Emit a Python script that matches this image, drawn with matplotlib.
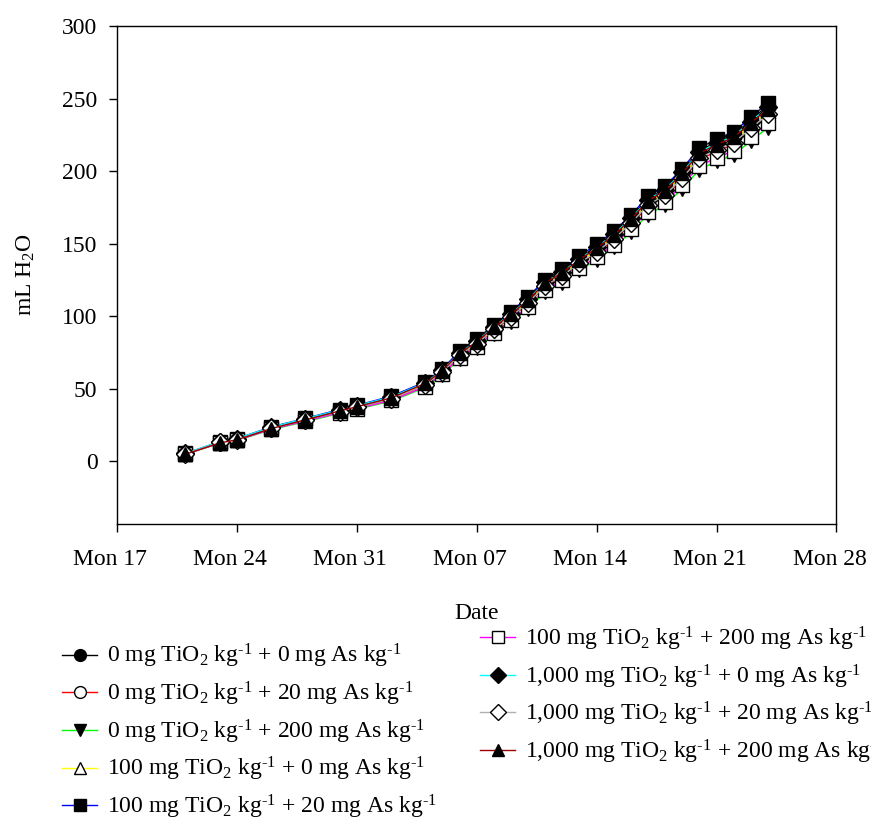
import pandas as pd
import matplotlib
matplotlib.use('Agg')
import matplotlib.pyplot as plt
import matplotlib.dates as mdates
from matplotlib.transforms import ScaledTranslation

plt.rcParams['font.family'] = 'Liberation Serif'
plt.rcParams['font.size'] = 17
plt.rcParams['mathtext.fontset'] = 'custom'
plt.rcParams['mathtext.rm'] = 'Liberation Serif'
plt.rcParams['mathtext.it'] = 'Liberation Serif:italic'
plt.rcParams['mathtext.bf'] = 'Liberation Serif:bold'

# measurement dates
dates = pd.to_datetime([
    '2014-03-21', '2014-03-23', '2014-03-24', '2014-03-26', '2014-03-28',
    '2014-03-30', '2014-03-31', '2014-04-02', '2014-04-04', '2014-04-05',
    '2014-04-06', '2014-04-07', '2014-04-08', '2014-04-09', '2014-04-10',
    '2014-04-11', '2014-04-12', '2014-04-13', '2014-04-14', '2014-04-15',
    '2014-04-16', '2014-04-17', '2014-04-18', '2014-04-19', '2014-04-20',
    '2014-04-21', '2014-04-22', '2014-04-23', '2014-04-24'])

# cumulative water use (mL H2O) per treatment
ti0_as0 = [5.1, 13.0, 15.2, 22.9, 29.1, 35.0, 38.2, 44.1, 54.2, 63.1, 75.0, 83.2, 93.1, 102.2, 112.0,
           124.1, 131.0, 140.2, 148.0, 157.1, 168.0, 181.0, 188.2, 200.0, 214.0, 220.1, 225.0, 235.2, 245.3]
ti0_as20 = [4.9, 12.7, 14.6, 22.4, 28.2, 34.0, 36.9, 42.7, 52.4, 61.2, 72.8, 80.6, 90.3, 99.0, 108.8,
            120.4, 127.2, 135.9, 143.7, 152.4, 163.1, 175.8, 182.5, 194.2, 207.8, 213.6, 218.5, 228.2, 237.9]
ti0_as200 = [4.7, 12.3, 14.2, 21.7, 27.3, 33.0, 35.8, 41.4, 50.8, 59.2, 70.5, 78.0, 87.4, 95.8, 105.2,
             116.5, 123.1, 131.5, 139.0, 147.5, 157.8, 170.0, 176.6, 187.8, 201.0, 206.6, 211.3, 220.7, 230.0]
ti100_as0 = [5.0, 12.8, 14.8, 22.7, 28.6, 34.5, 37.4, 43.3, 53.1, 62.0, 73.8, 81.7, 91.5, 100.4, 110.2,
             122.0, 128.9, 137.8, 145.6, 154.5, 165.3, 178.1, 185.0, 196.8, 210.6, 216.5, 221.4, 231.3, 241.1]
ti100_as20 = [5.3, 13.4, 15.5, 23.6, 29.5, 35.6, 38.5, 44.7, 54.6, 63.7, 75.8, 84.0, 94.0, 103.1, 113.2,
              125.2, 132.3, 141.4, 149.5, 158.5, 169.6, 182.5, 189.6, 201.7, 215.8, 222.0, 227.0, 237.0, 247.0]
ti100_as200 = [4.8, 12.5, 14.4, 22.0, 27.7, 33.4, 36.2, 41.9, 51.4, 60.0, 71.4, 79.0, 88.5, 97.0, 106.5,
               117.9, 124.6, 133.1, 140.7, 149.3, 159.8, 172.1, 178.8, 190.2, 203.5, 209.2, 214.0, 223.5, 233.0]
ti1000_as0 = [5.4, 13.5, 15.6, 23.4, 29.4, 35.2, 38.3, 44.2, 54.0, 62.8, 74.7, 82.7, 92.6, 101.6, 111.5,
              123.5, 130.4, 139.4, 147.4, 156.4, 167.3, 180.3, 187.2, 199.2, 213.1, 219.1, 224.1, 234.1, 244.0]
ti1000_as20 = [5.1, 12.9, 14.9, 22.6, 28.4, 34.2, 37.1, 42.9, 52.7, 61.5, 73.2, 81.0, 90.8, 99.6, 109.3,
               121.0, 127.9, 136.6, 144.4, 153.2, 164.0, 176.7, 183.5, 195.2, 208.9, 214.7, 219.6, 229.4, 239.1]
ti1000_as200 = [4.8, 12.6, 14.7, 22.5, 28.5, 34.6, 37.5, 43.6, 53.6, 62.5, 74.4, 82.3, 92.3, 101.2, 111.1,
                123.0, 130.0, 138.9, 146.8, 155.7, 166.7, 179.6, 186.5, 198.4, 212.3, 218.2, 223.2, 233.1, 243.0]

sup = r'$^{\text{-}1}$'
labels = [
    '0 mg TiO$_2$ kg' + sup + ' + 0 mg As kg' + sup,
    '0 mg TiO$_2$ kg' + sup + ' + 20 mg As kg' + sup,
    '0 mg TiO$_2$ kg' + sup + ' + 200 mg As kg' + sup,
    '100 mg TiO$_2$ kg' + sup + ' + 0 mg As kg' + sup,
    '100 mg TiO$_2$ kg' + sup + ' + 20 mg As kg' + sup,
    '100 mg TiO$_2$ kg' + sup + ' + 200 mg As kg' + sup,
    '1,000 mg TiO$_2$ kg' + sup + ' + 0 mg As kg' + sup,
    '1,000 mg TiO$_2$ kg' + sup + ' + 20 mg As kg' + sup,
    '1,000 mg TiO$_2$ kg' + sup + ' + 200 mg As kg' + sup,
]
series = [ti0_as0, ti0_as20, ti0_as200, ti100_as0, ti100_as20,
          ti100_as200, ti1000_as0, ti1000_as20, ti1000_as200]
line_colors = ['black', 'red', '#00ff00', 'yellow', 'blue',
               'magenta', 'cyan', '#b0b0b0', '#990000']
markers = ['o', 'o', 'v', '^', 's', 's', 'D', 'D', '^']
faces = ['black', 'white', 'black', 'white', 'black', 'white', 'black', 'white', 'black']
msizes = [10, 10, 10, 10, 9.5, 9.5, 9, 9, 10]

fig = plt.figure(figsize=(8.71, 8.33), dpi=100)
ax = fig.add_axes([0.1343, 0.3715, 0.826, 0.5973])

handles = []
for y, lab, c, m, fc, ms in zip(series, labels, line_colors, markers, faces, msizes):
    h, = ax.plot(dates, y, color=c, lw=1.0, marker=m, markersize=ms,
                 markerfacecolor=fc, markeredgecolor='black', markeredgewidth=1.0,
                 label=lab)
    handles.append(h)

ax.set_xlim(pd.Timestamp('2014-03-17'), pd.Timestamp('2014-04-28'))
ax.set_ylim(-43, 300)
ax.set_yticks([0, 50, 100, 150, 200, 250, 300])
ax.xaxis.set_major_locator(mdates.WeekdayLocator(byweekday=mdates.MO))
ax.xaxis.set_major_formatter(mdates.DateFormatter('Mon %d'))
ax.tick_params(direction='out', length=6, width=1, pad=8)
ax.tick_params(axis='x', pad=12)
for sp in ax.spines.values():
    sp.set_linewidth(1.0)

# date labels sit a little left of their ticks, as in the original
shift = ScaledTranslation(-5 / 72, 0, fig.dpi_scale_trans)
for t in ax.get_xticklabels():
    t.set_transform(t.get_transform() + shift)

ax.set_xlabel('Date', labelpad=24)
ax.set_ylabel('mL H$_2$O', labelpad=18)

leg1 = fig.legend(handles=handles[:5], loc='upper left', bbox_to_anchor=(0.0712, 0.229),
                  frameon=False, borderpad=0, borderaxespad=0, handlelength=1.5,
                  handletextpad=0.4, labelspacing=0.4, markerscale=0.85, fontsize=17)
leg2 = fig.legend(handles=handles[5:], loc='upper left', bbox_to_anchor=(0.551, 0.250),
                  frameon=False, borderpad=0, borderaxespad=0, handlelength=1.5,
                  handletextpad=0.4, labelspacing=0.4, markerscale=0.85, fontsize=17)

fig.savefig('out.png', dpi=100)
